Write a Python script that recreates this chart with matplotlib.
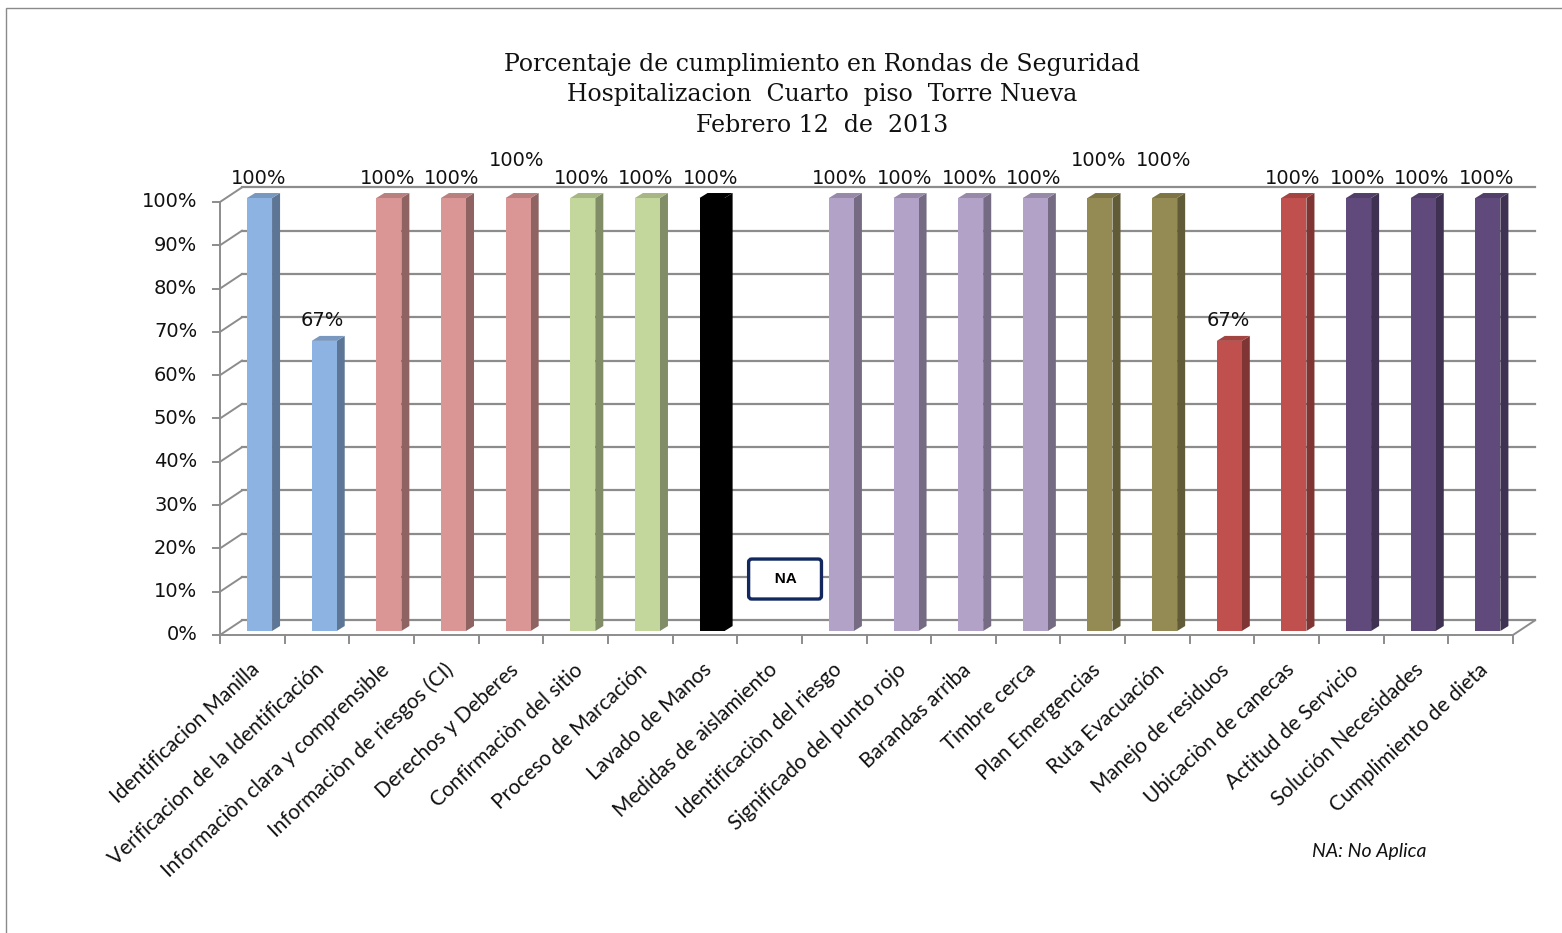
# barras de cumplimiento - rondas de seguridad (estilo 3D)
import numpy as np
import matplotlib.pyplot as plt
from matplotlib.patches import Polygon, Rectangle
from matplotlib.colors import to_rgb

categorias = [
    "Identificacion Manilla",
    "Verificacion de la Identificación",
    "Informaciòn clara y comprensible",
    "Informaciòn de riesgos (CI)",
    "Derechos y Deberes",
    "Confirmaciòn del sitio",
    "Proceso de Marcación",
    "Lavado de Manos",
    "Medidas de aislamiento",
    "Identificaciòn del riesgo",
    "Significado del punto rojo",
    "Barandas arriba",
    "Timbre cerca",
    "Plan Emergencias",
    "Ruta Evacuación",
    "Manejo de residuos",
    "Ubicaciòn de canecas",
    "Actitud de Servicio",
    "Solución Necesidades",
    "Cumplimiento de dieta",
]
valores = [100, 67, 100, 100, 100, 100, 100, 100, np.nan, 100,
           100, 100, 100, 100, 100, 67, 100, 100, 100, 100]
colores = ["#8DB3E2", "#8DB3E2", "#D99694", "#D99694", "#D99694",
           "#C3D69B", "#C3D69B", "#000000", "#FFFFFF", "#B2A2C7",
           "#B2A2C7", "#B2A2C7", "#B2A2C7", "#948A54", "#948A54",
           "#C0504D", "#C0504D", "#604A7B", "#604A7B", "#604A7B"]
etiquetas_altas = [4, 13, 14]   # etiquetas que Excel subio un poco
ticks_y = list(range(0, 101, 10))

titulo = ["Porcentaje de cumplimiento en Rondas de Seguridad",
          "Hospitalizacion  Cuarto  piso  Torre Nueva",
          "Febrero 12  de  2013"]

W, H = 1562, 933
fig = plt.figure(figsize=(W / 100, H / 100), dpi=100)
ax = fig.add_axes([220 / W, (H - 631) / H, 1293 / W, 433 / H])
ax.set_xlim(-0.5, 19.5)
ax.set_ylim(0, 100)
ax.axis("off")

n = len(categorias)
gris = "#8C8C8C"
FRONT_DY = -0.92   # plano frontal (ejes)
BACK_DX, BACK_DY = 0.34, 2.45   # pared del fondo

def oscuro(c, f):
    r, g, b = to_rgb(c)
    return (r * f, g * f, b * f)

# pared del fondo y diagonales del eje y
x_izq, x_der = -0.5, n - 0.5
for t in ticks_y:
    ax.plot([x_izq + BACK_DX, x_der + BACK_DX], [t + BACK_DY] * 2,
            color=gris, lw=1.6, zorder=1, clip_on=False)
    ax.plot([x_izq, x_izq + BACK_DX], [t + FRONT_DY, t + BACK_DY],
            color=gris, lw=1.4, zorder=1, clip_on=False)
    ax.plot([x_izq - 0.11, x_izq], [t + FRONT_DY] * 2,
            color=gris, lw=1.4, zorder=1, clip_on=False)
    ax.text(x_izq - 0.35, t + FRONT_DY, f"{t}%", ha="right", va="center",
            fontsize=14, family="DejaVu Sans", color="#111111")

# eje vertical, piso frontal y marcas
ax.plot([x_izq, x_izq], [FRONT_DY, 100 + FRONT_DY], color=gris, lw=1.4,
        zorder=5, clip_on=False)
ax.plot([x_izq, x_der], [FRONT_DY] * 2, color=gris, lw=1.4, zorder=5, clip_on=False)
ax.plot([x_der, x_der + BACK_DX], [FRONT_DY, BACK_DY], color=gris, lw=1.4,
        zorder=5, clip_on=False)
for k in range(n + 1):
    ax.plot([k - 0.5, k - 0.5], [FRONT_DY, FRONT_DY - 1.9], color=gris, lw=1.4,
            zorder=5, clip_on=False)

# barras: cara frontal, lateral y superior
x = np.arange(n)
ancho = 0.387
izq = x - 0.082
lado, sube = 0.124, 1.15
for i in range(n):
    v = valores[i]
    if np.isnan(v):
        continue
    c = colores[i]
    der = izq[i] + ancho
    ax.add_patch(Polygon([(der, 0), (der + lado, sube), (der + lado, v + sube), (der, v)],
                         closed=True, facecolor=oscuro(c, 0.66), edgecolor="none",
                         zorder=3, clip_on=False))
    ax.add_patch(Polygon([(izq[i], v), (der, v), (der + lado, v + sube),
                          (izq[i] + lado, v + sube)],
                         closed=True, facecolor=oscuro(c, 0.85), edgecolor="none",
                         zorder=3, clip_on=False))
ax.bar(izq, np.nan_to_num(valores), width=ancho, align="edge", color=colores,
       edgecolor="none", zorder=4, clip_on=False)

# etiquetas de datos
for i in range(n):
    v = valores[i]
    if np.isnan(v):
        continue
    dy = 38 if i in etiquetas_altas else 20
    ax.annotate(f"{v:.0f}%", (i + 0.09, v), xytext=(0, dy * 0.72),
                textcoords="offset points", ha="center", va="center",
                fontsize=14, family="DejaVu Sans", color="#111111",
                annotation_clip=False)

# cuadro NA para la categoria sin dato
i_na = int(np.where(np.isnan(valores))[0][0])
ax.text(i_na + 0.24, 12.0, "   NA   ", ha="center", va="center", fontsize=11,
        fontweight="bold", family="Liberation Sans", zorder=6,
        bbox=dict(boxstyle="round,pad=0.85,rounding_size=0.2", facecolor="white",
                  edgecolor="#12285F", linewidth=2.4))

# nombres de categoria rotados
for i, nombre in enumerate(categorias):
    ax.text(i + 0.07, -8.3, nombre, rotation=43, rotation_mode="anchor",
            ha="right", va="center", fontsize=15, family="Lato", color="#111111",
            clip_on=False)

# titulo
for k, linea in enumerate(titulo):
    fig.text(822 / W, 1 - (64 + 30.5 * k) / H, linea, ha="center", va="center",
             fontsize=17, family="DejaVu Serif", color="#111111")

fig.text(1369 / W, 1 - 852 / H, "NA: No Aplica", ha="center", va="center",
         fontsize=14, family="Lato", style="italic", color="#111111")

# marco del grafico
fig.add_artist(Rectangle((6 / W, -0.1), 1.2, 1.1 - 8 / H, transform=fig.transFigure,
                         fill=False, edgecolor="#8A8A8A", lw=1.0))

fig.savefig("out.png", dpi=100)
